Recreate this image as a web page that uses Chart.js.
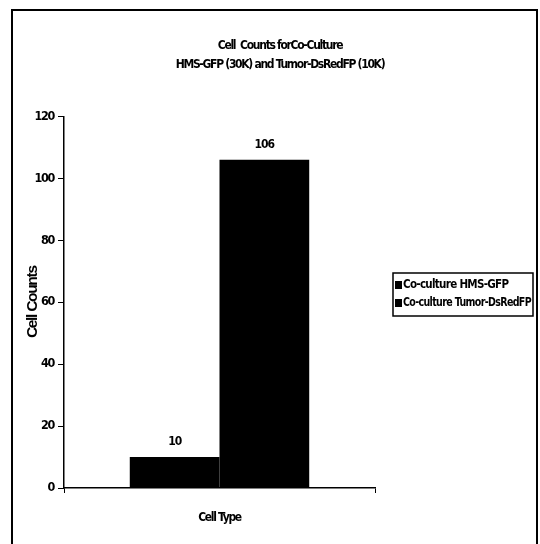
<!DOCTYPE html>
<html>
<head>
<meta charset="utf-8">
<script src="https://cdn.jsdelivr.net/npm/chart.js@4.4.0/dist/chart.umd.min.js"></script>
<style>
  html, body { margin: 0; padding: 0; background: #fff; }
  #wrap { width: 540px; height: 544px; }
</style>
</head>
<body>
<div id="wrap"><canvas id="cells"></canvas></div>
<script>
// chart values
const categories = ["Cell Type"];
const seriesNames = ["Co-culture HMS-GFP", "Co-culture Tumor-DsRedFP"];
const hmsGfp = [10];
const tumorDsRed = [106];
const yMax = 120;
const yStep = 20;

const narrow = "'DejaVu Sans Condensed', 'DejaVu Sans', sans-serif";
const nw = "condensed bold"; // goes into the canvas font string before the size

// outer frame + value labels + legend box
const extras = {
  id: "extras",
  beforeDraw(chart) {
    const c = chart.ctx;
    c.save();
    c.fillStyle = "#fff";
    c.fillRect(0, 0, chart.width, chart.height);
    c.strokeStyle = "#000";
    c.lineWidth = 2;
    c.strokeRect(12, 10, 525, 545);
    c.restore();
    // squeeze all the text a bit, like Arial Narrow in the original
    c.letterSpacing = "-1.3px";
  },
  afterDatasetsDraw(chart) {
    const c = chart.ctx;
    c.save();
    c.fillStyle = "#000";
    c.font = nw + " 12px " + narrow;
    c.letterSpacing = "-1px";
    c.textAlign = "center";
    c.textBaseline = "middle";
    chart.data.datasets.forEach((ds, i) => {
      chart.getDatasetMeta(i).data.forEach((bar, j) => {
        c.fillText(String(ds.data[j]), bar.x, bar.y - 15);
      });
    });
    c.restore();
  },
  afterDraw(chart) {
    // legend, Excel style box to the right of the plot
    const c = chart.ctx;
    const x0 = 393, y0 = 273, w = 140, h = 43;
    c.save();
    c.strokeStyle = "#000";
    c.lineWidth = 1.5;
    c.strokeRect(x0, y0, w, h);
    c.font = nw + " 11.5px " + narrow;
    c.letterSpacing = "-0.7px";
    c.textBaseline = "middle";
    chart.data.datasets.forEach((ds, i) => {
      const y = y0 + 12 + i * 18;
      c.fillStyle = ds.backgroundColor;
      c.fillRect(x0 + 2, y - 4, 7, 8);
      c.fillStyle = "#000";
      c.fillText(ds.label, x0 + 10, y, w - 12);
    });
    c.restore();
  }
};

new Chart(document.getElementById("cells"), {
  type: "bar",
  data: {
    labels: categories,
    datasets: [
      { label: seriesNames[0], data: hmsGfp, backgroundColor: "#000" },
      { label: seriesNames[1], data: tumorDsRed, backgroundColor: "#000" }
    ]
  },
  options: {
    responsive: true,
    maintainAspectRatio: false,
    animation: false,
    layout: { padding: { left: 20, right: 0, top: 10, bottom: 0 } },
    datasets: { bar: { categoryPercentage: 0.577, barPercentage: 1.0 } },
    plugins: {
      legend: { display: false },
      tooltip: { enabled: false },
      title: {
        display: true,
        text: ["Cell  Counts forCo-Culture", "HMS-GFP (30K) and Tumor-DsRedFP (10K)"],
        color: "#000",
        font: { family: narrow, size: 12, weight: nw, lineHeight: 1.6 },
        padding: { top: 26, bottom: 42 }
      }
    },
    scales: {
      x: {
        grid: { display: true, drawOnChartArea: false, color: "#000", tickLength: 5 },
        border: { color: "#000", width: 1.5 },
        ticks: { color: "#000", font: { family: narrow, size: 12, weight: nw }, padding: 18 },
        afterFit(s) { s.height = 56; }
      },
      y: {
        min: 0,
        max: yMax,
        grid: { display: true, drawOnChartArea: false, color: "#000", tickLength: 6 },
        border: { color: "#000", width: 1.5 },
        ticks: { stepSize: yStep, color: "#000", padding: 4, font: { family: narrow, size: 12.5, weight: nw } },
        title: {
          display: true,
          text: "Cell Counts",
          color: "#000",
          font: { family: "'Liberation Sans', Arial, sans-serif", size: 15.5, weight: "bold" },
          padding: { top: 3, bottom: 0 }
        },
        afterFit(s) { s.width = 44; }
      },
      pad: {
        position: "right",
        display: true,
        grid: { display: false },
        border: { display: false },
        ticks: { display: false },
        afterFit(s) { s.width = 165; }
      }
    }
  },
  plugins: [extras]
});
</script>
</body>
</html>
